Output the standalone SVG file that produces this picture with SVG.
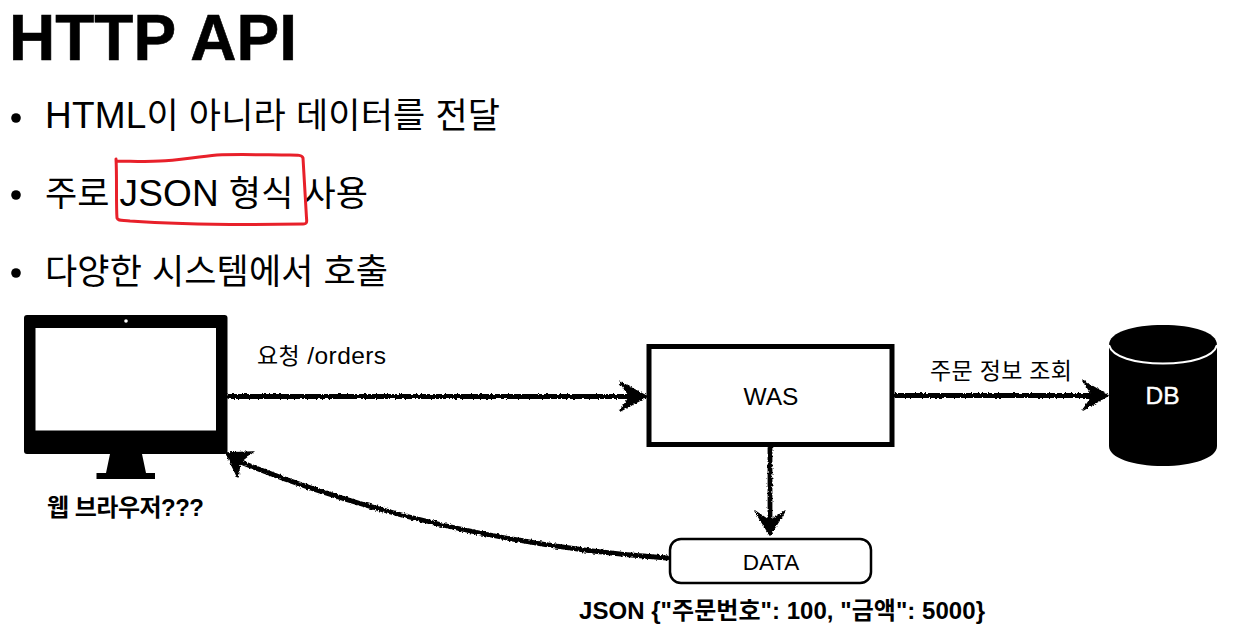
<svg xmlns="http://www.w3.org/2000/svg" width="1238" height="629" viewBox="0 0 1238 629">
<style>
text{font-family:"Liberation Sans","Noto Sans CJK KR",sans-serif;fill:#000}
.b{font-size:35px}
.lat{font-size:37px}
.l{font-size:24.500px}
.k{font-size:23px}
.bd{font-size:24px;font-weight:700}
.c{text-anchor:middle}
.w{fill:none;stroke:#000;stroke-width:4.800;stroke-linecap:round;stroke-linejoin:round;filter:url(#rough)}
.h{fill:#000;stroke:#000;stroke-width:1.500;stroke-linejoin:round;filter:url(#rough)}
</style>
<defs>
<filter id="rough" x="0" y="0" width="1238" height="629" filterUnits="userSpaceOnUse">
<feTurbulence type="fractalNoise" baseFrequency="0.45" numOctaves="2" seed="4"/>
<feDisplacementMap in="SourceGraphic" scale="3.500" xChannelSelector="R" yChannelSelector="G"/>
</filter>
</defs>
<rect width="1238" height="629" fill="#fff"/>
<g id="title"><text x="9" y="60" font-size="64" font-weight="700" stroke="#000" stroke-width="0.6">HTTP API</text></g>
<g id="bullets">
<circle cx="16" cy="118" r="4.800"/><text class="b" x="45" y="128" textLength="455"><tspan class="lat">HTML</tspan>이 아니라 데이터를 전달</text>
<circle cx="16" cy="195" r="4.800"/><text class="b" x="45" y="206" textLength="323">주로 <tspan class="lat">JSON</tspan> 형식 사용</text>
<circle cx="16" cy="273" r="4.800"/><text class="b" x="45" y="284" textLength="343">다양한 시스템에서 호출</text>
</g>
<path id="highlight" d="M116 159C117 175 116 205 117 218C118 221 122 220 130 221C170 224 240 225 303 224C307 224 307 222 306.500 218C305 195 304 175 303 158C302 155 298 155 290 155C270 155 240 154 217 155C195 157 175 161 160 161C145 162 130 161 116 161" fill="none" stroke="#e8202a" stroke-width="3" stroke-linecap="round" stroke-linejoin="round"/>
<g id="browser">
<rect x="24" y="315" width="203.500" height="139" rx="3" fill="#000"/>
<rect x="35.500" y="328" width="180.500" height="102.500" fill="#fff"/>
<circle cx="126" cy="321" r="1.800" fill="#fff"/>
<path d="M110 454H142L146 473H155V479H96.500V473H106Z" fill="#000"/>
<text class="bd c" x="125.500" y="516" textLength="157">웹 브라우저???</text>
</g>
<g id="was">
<rect x="649" y="346.500" width="243" height="98" fill="#fff" stroke="#000" stroke-width="5"/>
<text class="l c" x="771" y="405">WAS</text>
</g>
<g id="db">
<path d="M1109 345C1109 332 1133 325 1163 325C1193 325 1217 332 1217 345V446C1217 458 1193 466 1163 466C1133 466 1109 458 1109 446Z" fill="#000"/>
<path d="M1109 345C1112 357 1135 363.500 1163 363.500C1191 363.500 1214 357 1217 345" fill="none" stroke="#fff" stroke-width="2"/>
<text class="l c" x="1162.500" y="404" style="fill:#fff" stroke="#fff" stroke-width="0.4">DB</text>
</g>
<g id="data">
<rect x="670" y="539" width="201" height="44" rx="11" fill="#fff" stroke="#000" stroke-width="2.500"/>
<text class="c" x="771" y="570" font-size="22.500">DATA</text>
<text class="bd c" x="782" y="619" textLength="406">JSON {"주문번호": 100, "금액": 5000}</text>
</g>
<g id="labels">
<text class="l" x="257" y="364" textLength="129"><tspan class="k">요청</tspan> /orders</text>
<text class="k" x="930" y="379" textLength="142">주문 정보 조회</text>
</g>
<g id="connectors">
<path class="w" d="M229 396.500H640"/>
<path class="h" d="M647 396.500L620 382L630 396.500L620 411Z"/>
<path class="w" d="M895 395.500H1100"/>
<path class="h" d="M1108 395.500L1083 381L1093 395.500L1083 410Z"/>
<path class="w" d="M770 448V528"/>
<path class="h" d="M770 535L755 511L770 521L785 511Z"/>
<path class="w" d="M667 558C520 548 370 515 238 461"/>
<path class="h" d="M226 453L253 452L240 462L238 478Z"/>
</g>
</svg>
